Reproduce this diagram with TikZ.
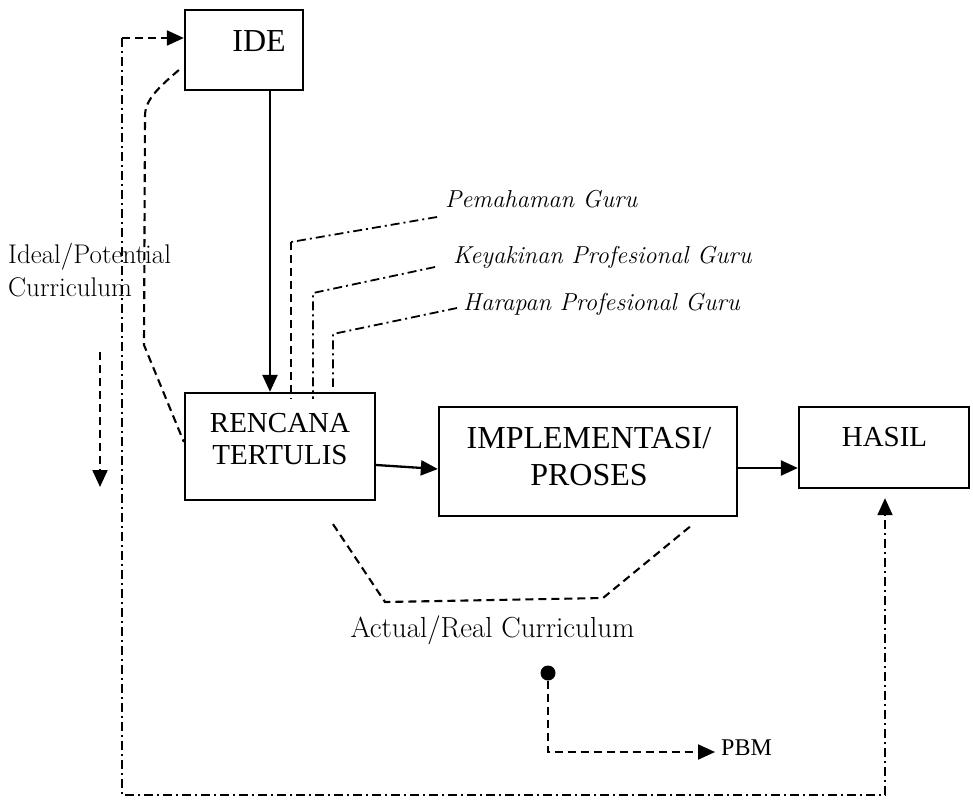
\documentclass[tikz,border=0pt]{standalone}
\usepackage{fontspec}
\newfontfamily\tnr{Liberation Serif}
\usetikzlibrary{arrows.meta}
\begin{document}
\begin{tikzpicture}[x=1pt,y=-1pt,
  box/.style={draw,line width=2.3pt,inner sep=0pt,rectangle},
  boxtext/.style={font=\tnr\fontsize{29}{32}\selectfont,align=center,anchor=base,inner sep=0pt},
  guru/.style={font=\itshape\fontsize{24.5}{28}\selectfont,anchor=base west,inner sep=0pt},
  curr/.style={font=\fontsize{27}{33}\selectfont,inner sep=0pt},
  tip/.style={-{Triangle[length=17pt,width=15pt]}},
  flow/.style={line width=2.3pt,tip},
  dsh/.style={dash pattern=on 8pt off 5pt,line width=2.1pt},
  dshdot/.style={dash pattern=on 9pt off 4pt on 2pt off 4pt,line width=1.8pt},
]
\useasboundingbox (0,0) rectangle (973,803);

% main boxes
\node[box,minimum width=118pt,minimum height=80pt] (ide) at (244,50) {};
\node[box,minimum width=190pt,minimum height=107pt] (ren) at (280,446.5) {};
\node[box,minimum width=298pt,minimum height=109pt] (imp) at (588,461.5) {};
\node[box,minimum width=170pt,minimum height=81pt] (has) at (884,447.5) {};

% box captions (base anchor sits on the last line)
\node[boxtext,font=\tnr\fontsize{32}{36}\selectfont] (ideT) at (259,51) {IDE};
\node[boxtext] (renT) at (280,464) {RENCANA\\TERTULIS};
\node[boxtext,font=\tnr\fontsize{32}{37}\selectfont] (impT) at (589,485) {IMPLEMENTASI/\\PROSES};
\node[boxtext] (hasT) at (884.5,446) {HASIL};

% main flow
\draw[flow] ([xshift=26pt]ide.south) -- ([xshift=-10pt]ren.north);
\draw[flow] ([yshift=-18.5pt]ren.east) -- ([yshift=-7.5pt]imp.west);
\draw[flow] ([yshift=-6.5pt]imp.east) -- ([yshift=-20.5pt]has.west);

% feedback loop from HASIL back to IDE
\coordinate (fbcorner) at (122,38);
\coordinate (fbleft) at (122,795);
\coordinate (fbright) at (885,795);
\draw[dsh,tip] (fbcorner) -- (fbcorner -| ide.west);
\draw[dshdot,tip,shorten >=9pt] (fbcorner) -- (fbleft) -- (fbright) -- (fbright |- has.south);

% ideal / potential curriculum
\node[curr,align=left,anchor=base west] (ideal) at (8,296) {Ideal/Potential\\Curriculum};
\coordinate (dnA) at (100,352);
\coordinate (dnB) at (100,487);
\draw[dsh,tip] (dnA) -- (dnB);
\draw[dsh] ([xshift=-5pt,yshift=-20pt]ide.west) .. controls (158,88) and (145,100) .. (145,116)
  -- (144,345) -- ([yshift=4.5pt]ren.west);

% teacher factors
\node[guru] (pem) at (445,207) {Pemahaman Guru};
\node[guru] (key) at (453,263) {Keyakinan Profesional Guru};
\node[guru] (har) at (463,310) {Harapan Profesional Guru};
\coordinate (pemK) at (291,242);
\draw[dshdot] ([xshift=-8pt,yshift=-10pt]pem.base west) -- (pemK);
\draw[dsh] (pemK) -- ([xshift=11pt,yshift=-7pt]ren.north);
\draw[dshdot] ([xshift=-18pt,yshift=-4pt]key.base west) -- (313,293) -- ([xshift=33pt,yshift=-7pt]ren.north);
\draw[dshdot] ([xshift=-6pt,yshift=2pt]har.base west) -- (333,334) -- ([xshift=53pt,yshift=5pt]ren.north);

% actual / real curriculum
\draw[dsh] ([xshift=53pt,yshift=-23pt]ren.south) -- (385,602) -- (603,598) -- ([xshift=105pt,yshift=-7pt]imp.south);
\node[curr,anchor=base,font=\fontsize{29}{33}\selectfont] (actual) at (492.5,637) {Actual/Real Curriculum};

% PBM
\node[circle,fill,inner sep=0pt,minimum size=15pt] (dot) at (548,673) {};
\node[font=\tnr\fontsize{24}{28}\selectfont,anchor=west,inner sep=0pt] (pbm) at (721,748) {PBM};
\coordinate (pbmturn) at (548,752);
\draw[dsh,tip,shorten >=6pt] (dot) -- (pbmturn) -- (pbmturn -| pbm.west);
\end{tikzpicture}
\end{document}
